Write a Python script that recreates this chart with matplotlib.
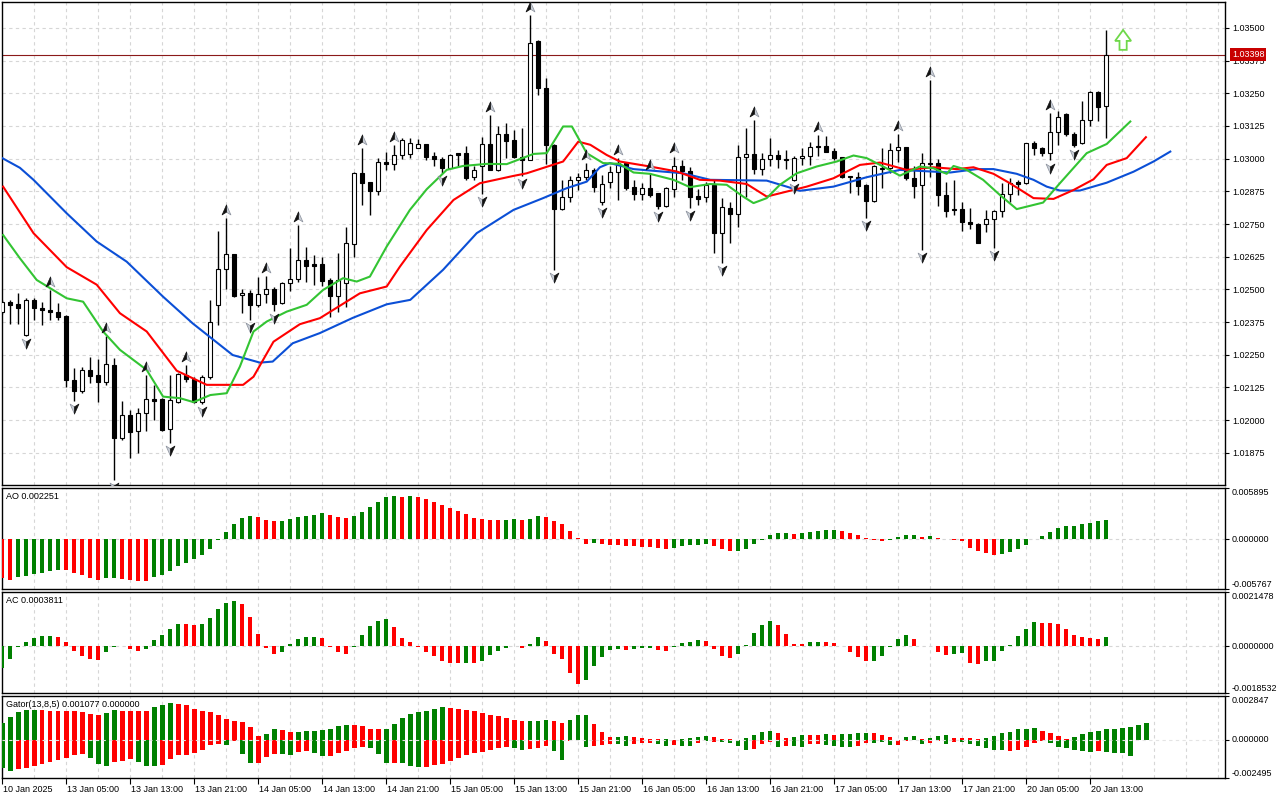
import numpy as np
import matplotlib.pyplot as plt
from matplotlib.path import Path
from matplotlib.patches import Polygon
from matplotlib.transforms import blended_transform_factory

plt.rcParams['font.family'] = ['Liberation Sans', 'DejaVu Sans']
plt.rcParams['font.size'] = 6.5

# EURUSD H1, 10 Jan 21:00 .. 20 Jan 15:00
opens = [
    1.02413, 1.02450, 1.02443, 1.02325, 1.02459, 1.02430, 1.02422, 1.02413, 1.02399, 1.02153,
    1.02113, 1.02191, 1.02173, 1.02147, 1.02211, 1.01931, 1.02019, 1.01958, 1.02027, 1.02080,
    1.02080, 1.01965, 1.02071, 1.02173, 1.02158, 1.02069, 1.02166, 1.02440, 1.02577, 1.02636,
    1.02478, 1.02485, 1.02442, 1.02482, 1.02502, 1.02447, 1.02524, 1.02541, 1.02613, 1.02596,
    1.02596, 1.02536, 1.02476, 1.02526, 1.02674, 1.02944, 1.02910, 1.02878, 1.02986, 1.02979,
    1.03013, 1.03017, 1.03040, 1.03056, 1.03012, 1.02998, 1.02966, 1.03021, 1.03021, 1.02929,
    1.02970, 1.03056, 1.02957, 1.03095, 1.03072, 1.03006, 1.02995, 1.03448, 1.03269, 1.03053,
    1.02807, 1.02853, 1.02919, 1.02929, 1.02957, 1.02836, 1.02912, 1.02948, 1.02985, 1.02891,
    1.02864, 1.02887, 1.02868, 1.02817, 1.02883, 1.02972, 1.02954, 1.02857, 1.02853, 1.02900,
    1.02715, 1.02811, 1.02788, 1.03006, 1.03019, 1.02961, 1.02999, 1.03013, 1.02999, 1.02919,
    1.03002, 1.03009, 1.03049, 1.03049, 1.03030, 1.03006, 1.02934, 1.02929, 1.02900, 1.02838,
    1.02961, 1.02966, 1.03033, 1.03044, 1.02925, 1.02900, 1.02985, 1.02985, 1.02861, 1.02809,
    1.02808, 1.02759, 1.02750, 1.02750, 1.02768, 1.02800, 1.02865, 1.02910, 1.02906, 1.03059,
    1.03040, 1.03021, 1.03100, 1.03170, 1.03093, 1.03059, 1.03148, 1.03256, 1.03202,
]
highs = [
    1.02460, 1.02460, 1.02485, 1.02467, 1.02466, 1.02451, 1.02498, 1.02447, 1.02402, 1.02199,
    1.02202, 1.02243, 1.02234, 1.02320, 1.02237, 1.02072, 1.02039, 1.02046, 1.02173, 1.02135,
    1.02084, 1.02173, 1.02179, 1.02211, 1.02166, 1.02173, 1.02460, 1.02725, 1.02772, 1.02636,
    1.02501, 1.02498, 1.02547, 1.02552, 1.02511, 1.02530, 1.02658, 1.02747, 1.02664, 1.02632,
    1.02625, 1.02545, 1.02638, 1.02740, 1.02950, 1.03040, 1.02912, 1.03002, 1.03027, 1.03053,
    1.03078, 1.03078, 1.03074, 1.03056, 1.03027, 1.03008, 1.03018, 1.03021, 1.03050, 1.02970,
    1.03082, 1.03167, 1.03126, 1.03136, 1.03110, 1.03116, 1.03550, 1.03454, 1.03308, 1.03055,
    1.02919, 1.02934, 1.02944, 1.02983, 1.02963, 1.02938, 1.02970, 1.03002, 1.02989, 1.02919,
    1.02906, 1.02944, 1.02870, 1.02893, 1.03008, 1.02995, 1.02967, 1.02883, 1.02912, 1.02919,
    1.02850, 1.02836, 1.03053, 1.03116, 1.03148, 1.03021, 1.03078, 1.03033, 1.03033, 1.03012,
    1.03040, 1.03065, 1.03091, 1.03088, 1.03040, 1.03008, 1.02934, 1.02948, 1.02902, 1.02976,
    1.03040, 1.03059, 1.03093, 1.03046, 1.02970, 1.03023, 1.03301, 1.02998, 1.02912, 1.02919,
    1.02836, 1.02811, 1.02753, 1.02804, 1.02804, 1.02906, 1.02925, 1.02919, 1.03061, 1.03069,
    1.03046, 1.03174, 1.03184, 1.03174, 1.03100, 1.03222, 1.03259, 1.03259, 1.03492,
]
lows = [
    1.02406, 1.02367, 1.02367, 1.02322, 1.02383, 1.02362, 1.02383, 1.02383, 1.02126, 1.02075,
    1.02103, 1.02141, 1.02071, 1.02135, 1.01772, 1.01924, 1.01857, 1.01876, 1.01958, 1.02001,
    1.01960, 1.01912, 1.02065, 1.02147, 1.02065, 1.02062, 1.02158, 1.02364, 1.02501, 1.02472,
    1.02409, 1.02383, 1.02434, 1.02447, 1.02418, 1.02445, 1.02492, 1.02530, 1.02530, 1.02515,
    1.02513, 1.02396, 1.02415, 1.02434, 1.02625, 1.02823, 1.02785, 1.02861, 1.02957, 1.02957,
    1.02998, 1.03002, 1.03040, 1.02995, 1.02970, 1.02944, 1.02963, 1.02970, 1.02919, 1.02919,
    1.02864, 1.02957, 1.02954, 1.03002, 1.03002, 1.02934, 1.02995, 1.03244, 1.02980, 1.02575,
    1.02804, 1.02836, 1.02880, 1.02919, 1.02874, 1.02823, 1.02887, 1.02842, 1.02880, 1.02842,
    1.02842, 1.02855, 1.02807, 1.02814, 1.02855, 1.02919, 1.02811, 1.02823, 1.02836, 1.02638,
    1.02600, 1.02677, 1.02740, 1.02855, 1.02941, 1.02938, 1.02970, 1.02966, 1.02961, 1.02915,
    1.02976, 1.02976, 1.03011, 1.03025, 1.02995, 1.02925, 1.02870, 1.02861, 1.02772, 1.02836,
    1.02887, 1.02944, 1.02989, 1.02919, 1.02849, 1.02651, 1.02931, 1.02817, 1.02778, 1.02785,
    1.02725, 1.02730, 1.02677, 1.02719, 1.02658, 1.02778, 1.02836, 1.02861, 1.02903, 1.03014,
    1.03011, 1.02993, 1.03053, 1.03087, 1.03046, 1.03056, 1.03125, 1.03145, 1.03078,
]
closes = [
    1.02451, 1.02442, 1.02428, 1.02459, 1.02428, 1.02422, 1.02415, 1.02396, 1.02153, 1.02113,
    1.02191, 1.02170, 1.02147, 1.02215, 1.01931, 1.02019, 1.01954, 1.02027, 1.02080, 1.02075,
    1.01963, 1.02077, 1.02177, 1.02158, 1.02069, 1.02164, 1.02375, 1.02577, 1.02636, 1.02475,
    1.02485, 1.02442, 1.02482, 1.02502, 1.02443, 1.02524, 1.02539, 1.02613, 1.02591, 1.02591,
    1.02534, 1.02476, 1.02536, 1.02677, 1.02944, 1.02908, 1.02878, 1.02989, 1.02979, 1.03013,
    1.03072, 1.03059, 1.03056, 1.03008, 1.02998, 1.02966, 1.03014, 1.03014, 1.02925, 1.02956,
    1.03056, 1.02957, 1.03095, 1.03069, 1.03006, 1.02995, 1.03444, 1.03269, 1.03053, 1.02807,
    1.02853, 1.02919, 1.02929, 1.02957, 1.02891, 1.02903, 1.02949, 1.02983, 1.02887, 1.02864,
    1.02887, 1.02861, 1.02817, 1.02887, 1.02970, 1.02954, 1.02855, 1.02847, 1.02900, 1.02715,
    1.02814, 1.02788, 1.03006, 1.03019, 1.02960, 1.02998, 1.03013, 1.02998, 1.02996, 1.03002,
    1.03009, 1.03044, 1.03044, 1.03027, 1.03004, 1.02931, 1.02929, 1.02897, 1.02838, 1.02970,
    1.02966, 1.03033, 1.03044, 1.02925, 1.02897, 1.02985, 1.02980, 1.02861, 1.02801, 1.02804,
    1.02759, 1.02750, 1.02679, 1.02768, 1.02800, 1.02865, 1.02906, 1.02903, 1.03059, 1.03040,
    1.03021, 1.03100, 1.03161, 1.03093, 1.03053, 1.03148, 1.03256, 1.03199, 1.03398,
]
last_price = 1.03398

# Alligator (jaw 13/8, teeth 8/5, lips 5/3), read at bar positions
jaw_bars = [-0.3, 2.2, 3.9, 8.05, 11.8, 15.55, 20.1, 23.8, 28.8, 32.2, 33.8, 36.3, 39.7, 43.8, 48.05,
            51, 55.1, 59.3, 63.9, 67.6, 70.55, 73.05, 74.7, 75.95, 78.9, 85.1, 88.5, 95.55, 98.05, 99.7,
            103.9, 108.05, 112.2, 118.5, 121.8, 123.9, 126.8, 128.9, 130.55, 132.2, 134.7, 138.05,
            141.4, 143.9, 146]
jaw_vals = [1.03007, 1.02965, 1.02919, 1.02791, 1.02683, 1.02606, 1.02472, 1.02370, 1.02249, 1.02220,
            1.02224, 1.02294, 1.02333, 1.02391, 1.02443, 1.02460, 1.02575, 1.02715, 1.02804, 1.02849,
            1.02887, 1.02912, 1.02967, 1.02983, 1.02960, 1.02944, 1.02919, 1.02916, 1.02893, 1.02877,
            1.02893, 1.02929, 1.02957, 1.02947, 1.02960, 1.02960, 1.02942, 1.02919, 1.02893, 1.02878,
            1.02878, 1.02908, 1.02950, 1.02989, 1.03027]
teeth_bars = [0.1, 3.9, 8.05, 11.8, 14.7, 18.05, 21.8, 25.55, 30.1, 31.4, 33.9, 37.2, 39.7, 44.7, 48.05,
              49.7, 53.05, 56.4, 59.7, 63.9, 65.55, 70.1, 72, 73.5, 75.55, 77.2, 80.95, 84.3, 87.2, 89.7,
              93.05, 95.55, 98.05, 100.55, 103.9, 107.2, 109.7, 113.05, 116.4, 119.3, 121.4, 123.9,
              125.95, 128.9, 131.4, 133.9, 136.4, 138.05, 140.55, 142.95]
teeth_vals = [1.02893, 1.02715, 1.02585, 1.02518, 1.02409, 1.02339, 1.02189, 1.02135, 1.02135, 1.02166,
              1.02300, 1.02367, 1.02390, 1.02485, 1.02511, 1.02587, 1.02727, 1.02842, 1.02906, 1.02934,
              1.02944, 1.02989, 1.03065, 1.03053, 1.03014, 1.02989, 1.02970, 1.02951, 1.02919, 1.02916,
              1.02903, 1.02855, 1.02874, 1.02893, 1.02925, 1.02976, 1.02985, 1.02957, 1.02967, 1.02960,
              1.02967, 1.02942, 1.02906, 1.02849, 1.02846, 1.02880, 1.02921, 1.02976, 1.03002, 1.03082]
lips_bars = [0.1, 2.2, 4.3, 8.05, 10.1, 12.6, 14.7, 18.05, 20.1, 22.2, 23.9, 26, 28.05, 29.7, 31.4,
             33.05, 35.55, 38.05, 40.1, 42.6, 44.3, 45.95, 48.05, 50.95, 53.05, 55.55, 57.6, 60.55,
             63.05, 66.4, 68.05, 70.1, 71.2, 73.05, 75.1, 77.2, 78.9, 80.95, 83.9, 85.95, 88.45, 90.55,
             92.6, 93.9, 95.55, 97.2, 99.3, 101.8, 104.3, 106.4, 108.05, 110.1, 112.2, 114.7, 116.4,
             118.05, 118.9, 120.55, 122.6, 124.7, 126.8, 130.1, 132.2, 135.55, 138.05, 141]
lips_vals = [1.02708, 1.02619, 1.02536, 1.02466, 1.02453, 1.02339, 1.02269, 1.02192, 1.02090, 1.02084,
             1.02069, 1.02096, 1.02103, 1.02205, 1.02339, 1.02377, 1.02415, 1.02441, 1.02498, 1.02543,
             1.02530, 1.02549, 1.02664, 1.02804, 1.02883, 1.02957, 1.02972, 1.02980, 1.02979, 1.03018,
             1.03021, 1.03123, 1.03123, 1.03021, 1.02983, 1.02980, 1.02947, 1.02942, 1.02919, 1.02891,
             1.02903, 1.02900, 1.02855, 1.02830, 1.02849, 1.02900, 1.02944, 1.02970, 1.02989, 1.03012,
             1.03002, 1.02970, 1.02935, 1.02970, 1.02963, 1.02942, 1.02972, 1.02957, 1.02919, 1.02861,
             1.02807, 1.02832, 1.02906, 1.03021, 1.03056, 1.03142]

# Bill Williams fractals (bar index)
up_fractals = [6, 13, 18, 23, 28, 33, 37, 45, 49, 61, 66, 73, 77, 81, 84, 94, 102, 112, 116, 131]
down_fractals = [3, 9, 14, 21, 25, 31, 34, 55, 60, 65, 69, 75, 82, 86, 90, 99, 108, 115, 124, 131, 134]

# buy signal arrow above the last bars
signal_bar = 140.1
signal_low = 1.03416
signal_high = 1.03492

ao_values = [
    -0.004553, -0.004706, -0.004438, -0.004247, -0.004056, -0.003941, -0.003673, -0.003558, -0.003596, -0.003864,
    -0.004132, -0.004476, -0.004706, -0.004553, -0.004515, -0.004629, -0.004744, -0.004821, -0.004859, -0.004438,
    -0.004132, -0.003673, -0.003099, -0.002793, -0.002257, -0.001836, -0.001110, -0.000115, 0.000803, 0.001722,
    0.002410, 0.002640, 0.002525, 0.002219, 0.002066, 0.002104, 0.002296, 0.002525, 0.002678, 0.002831,
    0.002984, 0.002755, 0.002525, 0.002410, 0.002640, 0.003137, 0.003673, 0.004285, 0.004821, 0.004936,
    0.004821, 0.004936, 0.004821, 0.004591, 0.004247, 0.003903, 0.003558, 0.003214, 0.002870, 0.002410,
    0.002296, 0.002219, 0.002181, 0.002219, 0.002296, 0.002181, 0.002296, 0.002640, 0.002602, 0.002066,
    0.001722, 0.000918, 0.000077, -0.000536, -0.000497, -0.000536, -0.000689, -0.000727, -0.000803, -0.000842,
    -0.000880, -0.000918, -0.000995, -0.001110, -0.000995, -0.000803, -0.000727, -0.000689, -0.000536, -0.000803,
    -0.001110, -0.001416, -0.001339, -0.001110, -0.000536, -0.000115, 0.000421, 0.000689, 0.000727, 0.000574,
    0.000689, 0.000803, 0.000957, 0.001033, 0.001071, 0.000918, 0.000689, 0.000459, 0.000077, -0.000153,
    -0.000191, -0.000115, 0.000230, 0.000421, 0.000459, 0.000230, 0.000344, 0.000115, 0.000010, -0.000077,
    -0.000268, -0.001033, -0.001339, -0.001569, -0.001836, -0.001683, -0.001454, -0.001110, -0.000689, -0.000038,
    0.000344, 0.000803, 0.001263, 0.001492, 0.001530, 0.001760, 0.001875, 0.002104, 0.002251,
]
ao_colors = ("r" * 2 + "g" * 6 + "r" * 5 + "g" * 2 + "r" * 4 + "g" * 13 + "r" * 3 + "g" * 6 + "r" * 3
             + "g" * 6 + "r" + "g" + "r" * 11 + "g" * 2 + "r" + "g" * 2 + "r" * 6 + "g" + "r" * 9 + "g" * 5
             + "r" * 3 + "g" * 7 + "r" + "g" * 5 + "r" * 6 + "g" * 4 + "r" + "g" + "r" * 8 + "g" * 14)

ac_values = [
    -0.000882, -0.000487, -0.000013, 0.000171, 0.000329, 0.000408, 0.000421, 0.000368, 0.000171, -0.000171,
    -0.000382, -0.000487, -0.000540, -0.000211, -0.000039, 0.000013, -0.000105, -0.000171, -0.000092, 0.000250,
    0.000447, 0.000684, 0.000882, 0.000868, 0.000855, 0.000882, 0.001119, 0.001474, 0.001711, 0.001790,
    0.001684, 0.001158, 0.000500, -0.000053, -0.000290, -0.000211, 0.000092, 0.000290, 0.000368, 0.000382,
    0.000329, -0.000026, -0.000211, -0.000290, -0.000013, 0.000447, 0.000803, 0.001000, 0.001079, 0.000763,
    0.000329, 0.000171, -0.000013, -0.000211, -0.000382, -0.000605, -0.000658, -0.000684, -0.000671, -0.000684,
    -0.000566, -0.000329, -0.000171, -0.000053, 0.000013, -0.000066, 0.000092, 0.000368, 0.000211, -0.000290,
    -0.000526, -0.001079, -0.001487, -0.001355, -0.000776, -0.000408, -0.000145, -0.000092, -0.000132, -0.000092,
    -0.000066, -0.000053, -0.000132, -0.000184, -0.000013, 0.000132, 0.000171, 0.000250, 0.000211, -0.000105,
    -0.000368, -0.000461, -0.000290, 0.000039, 0.000526, 0.000842, 0.001000, 0.000842, 0.000487, 0.000105,
    0.000092, 0.000158, 0.000171, 0.000158, 0.000145, -0.000005, -0.000211, -0.000421, -0.000605, -0.000579,
    -0.000368, -0.000013, 0.000290, 0.000447, 0.000290, -0.000005, 0.000005, -0.000211, -0.000329, -0.000290,
    -0.000250, -0.000645, -0.000724, -0.000605, -0.000566, -0.000171, 0.000053, 0.000408, 0.000684, 0.000947,
    0.000921, 0.000908, 0.000895, 0.000684, 0.000447, 0.000368, 0.000329, 0.000290, 0.0003811,
]
ac_colors = ("g" * 7 + "r" * 6 + "g" * 3 + "r" * 2 + "g" * 5 + "r" * 2 + "g" * 5 + "r" * 5 + "g" * 5
             + "r" * 4 + "g" * 5 + "r" * 9 + "g" + "r" + "g" * 5 + "r" + "g" * 2 + "r" * 5 + "g" * 5 + "r"
             + "g" * 3 + "r" * 2 + "g" * 4 + "r" * 4 + "g" * 5 + "r" * 4 + "g" * 2 + "r" * 6 + "g" * 5
             + "r" * 2 + "g" + "r" * 2 + "g" * 2 + "r" * 2 + "g" * 7 + "r" * 8 + "g")

gator_upper = [
    0.00106, 0.00148, 0.00178, 0.00191, 0.00193, 0.00191, 0.00190, 0.00189, 0.00188, 0.00184,
    0.00178, 0.00165, 0.00159, 0.00172, 0.00191, 0.00190, 0.00189, 0.00188, 0.00187, 0.00212,
    0.00223, 0.00242, 0.00235, 0.00223, 0.00197, 0.00184, 0.00178, 0.00159, 0.00134, 0.00121,
    0.00114, 0.00083, 0.00025, 0.00038, 0.00070, 0.00064, 0.00051, 0.00053, 0.00057, 0.00059,
    0.00064, 0.00070, 0.00089, 0.00095, 0.00094, 0.00089, 0.00070, 0.00069, 0.00071, 0.00102,
    0.00140, 0.00165, 0.00178, 0.00184, 0.00197, 0.00210, 0.00204, 0.00201, 0.00191, 0.00184,
    0.00172, 0.00159, 0.00153, 0.00140, 0.00127, 0.00121, 0.00122, 0.00123, 0.00127, 0.00121,
    0.00108, 0.00127, 0.00158, 0.00160, 0.00102, 0.00051, 0.00019, 0.00020, 0.00025, 0.00019,
    0.00013, 0.00006, 0.00005, 0.00007, 0.00001, 0.00006, 0.00013, 0.00019, 0.00025, 0.00019,
    0.00006, 0.00005, 0.00001, 0.00013, 0.00032, 0.00051, 0.00057, 0.00045, 0.00013, 0.00019,
    0.00032, 0.00031, 0.00030, 0.00038, 0.00032, 0.00038, 0.00040, 0.00045, 0.00046, 0.00044,
    0.00032, 0.00019, 0.00001, 0.00019, 0.00021, 0.00006, 0.00013, 0.00025, 0.00028, 0.00013,
    0.00011, 0.00008, 0.00006, 0.00008, 0.00025, 0.00045, 0.00051, 0.00070, 0.00072, 0.00076,
    0.00057, 0.00045, 0.00025, 0.00006, 0.00019, 0.00038, 0.00051, 0.00057, 0.00070, 0.00072,
    0.00076, 0.00083, 0.00095, 0.001077,
]
gator_upper_colors = ("g" * 5 + "r" * 8 + "g" * 2 + "r" * 4 + "g" * 3 + "r" * 11 + "g" * 2 + "r" * 2
                      + "g" * 7 + "r" * 4 + "g" * 8 + "r" * 10 + "g" * 3 + "r" * 2 + "g" * 3 + "r" * 3
                      + "g" * 2 + "r" * 4 + "g" + "r" + "g" * 4 + "r" * 4 + "g" * 4 + "r" * 2 + "g" * 2
                      + "r" * 2 + "g" + "r" + "g" * 4 + "r" * 4 + "g" * 2 + "r" + "g" * 3 + "r" * 4
                      + "g" * 7 + "r" * 4 + "g" * 10)
gator_lower = [
    -0.00184, -0.00201, -0.00191, -0.00184, -0.00172, -0.00159, -0.00146, -0.00134, -0.00121, -0.00102,
    -0.00095, -0.00121, -0.00159, -0.00172, -0.00146, -0.00140, -0.00127, -0.00146, -0.00172, -0.00173,
    -0.00165, -0.00127, -0.00102, -0.00101, -0.00089, -0.00064, -0.00032, -0.00031, -0.00033, -0.00006,
    -0.00095, -0.00151, -0.00150, -0.00114, -0.00095, -0.00096, -0.00097, -0.00083, -0.00076, -0.00089,
    -0.00108, -0.00107, -0.00089, -0.00076, -0.00051, -0.00045, -0.00057, -0.00095, -0.00153, -0.00152,
    -0.00154, -0.00172, -0.00178, -0.00177, -0.00165, -0.00159, -0.00140, -0.00121, -0.00102, -0.00089,
    -0.00083, -0.00070, -0.00051, -0.00045, -0.00057, -0.00064, -0.00063, -0.00057, -0.00038, -0.00076,
    -0.00134, -0.00006, -0.00002, -0.00045, -0.00038, -0.00036, -0.00025, -0.00026, -0.00038, -0.00025,
    -0.00024, -0.00019, -0.00025, -0.00038, -0.00032, -0.00038, -0.00039, -0.00019, -0.00006, -0.00013,
    -0.00013, -0.00019, -0.00038, -0.00064, -0.00063, -0.00025, -0.00013, -0.00045, -0.00038, -0.00038,
    -0.00045, -0.00025, -0.00025, -0.00032, -0.00038, -0.00045, -0.00045, -0.00038, -0.00019, -0.00019,
    -0.00017, -0.00032, -0.00032, -0.00006, -0.00004, -0.00025, -0.00019, -0.00006, -0.00025, -0.00013,
    -0.00013, -0.00025, -0.00038, -0.00051, -0.00064, -0.00070, -0.00076, -0.00070, -0.00045, -0.00019,
    -0.00006, -0.00019, -0.00045, -0.00057, -0.00070, -0.00076, -0.00083, -0.00076, -0.00083, -0.00084,
    -0.00089, -0.00108, 0.0, 0.0,
]
gator_lower_colors = ("g" * 2 + "r" * 9 + "g" * 3 + "r" * 3 + "g" * 3 + "r" * 8 + "g" + "r" + "g" * 2
                      + "r" * 3 + "g" * 2 + "r" * 2 + "g" * 2 + "r" * 5 + "g" * 3 + "r" + "g" * 3 + "r" * 11
                      + "g" * 2 + "r" * 3 + "g" * 2 + "r" * 2 + "g" + "r" * 3 + "g" * 2 + "r" * 3 + "g" * 2
                      + "r" + "g" * 2 + "r" + "g" + "r" + "g" * 4 + "r" * 3 + "g" + "r" + "g" * 2 + "r" * 2
                      + "g" * 4 + "r" * 2 + "g" * 3 + "r" * 3 + "g" + "r" * 2 + "g" + "r" + "g" * 6 + "r" * 5
                      + "g" * 6 + "r" + "g" * 4 + "r" * 2)

price_ticks = [1.01875, 1.02000, 1.02125, 1.02250, 1.02375, 1.02500, 1.02625,
               1.02750, 1.02875, 1.03000, 1.03125, 1.03250, 1.03375, 1.03500]
ao_scale = (-0.005767, 0.005895)
ac_scale = (-0.0018532, 0.0021478)
gator_scale = (-0.002495, 0.002847)
ao_title = "AO 0.002251"
ac_title = "AC 0.0003811"
gator_title = "Gator(13,8,5) 0.001077 0.000000"
time_labels = ["10 Jan 2025", "13 Jan 05:00", "13 Jan 13:00", "13 Jan 21:00", "14 Jan 05:00",
               "14 Jan 13:00", "14 Jan 21:00", "15 Jan 05:00", "15 Jan 13:00", "15 Jan 21:00",
               "16 Jan 05:00", "16 Jan 13:00", "16 Jan 21:00", "17 Jan 05:00", "17 Jan 13:00",
               "17 Jan 21:00", "20 Jan 05:00", "20 Jan 13:00"]

GREEN = '#008000'
RED = '#ff0000'
GRID = '#d6d6d6'
DASH = (0, (3, 3))
W, H = 1280, 800
X0, X1 = 2, 1225          # chart area in pixels
BAR_PX, BAR0_PX = 8.0, 2.3

fig = plt.figure(figsize=(W / 100, H / 100), dpi=100)
fig.patch.set_facecolor('white')


def panel(top, bottom):
    ax = fig.add_axes([X0 / W, 1 - bottom / H, (X1 - X0) / W, (bottom - top) / H])
    ax.set_xlim((X0 - BAR0_PX) / BAR_PX, (X1 - BAR0_PX) / BAR_PX)
    for s in ax.spines.values():
        s.set_color('black')
        s.set_linewidth(1.0)
    ax.tick_params(axis='x', length=0, labelbottom=False)
    ax.yaxis.tick_right()
    ax.tick_params(axis='y', direction='out', length=3, width=0.8, labelsize=6.5, pad=2.5)
    for b in range(4, 153, 4):
        ax.axvline(b, color=GRID, lw=0.8, ls=DASH, zorder=0)
    return ax


def side_labels(ax, lo, hi, texts):
    ax.set_ylim(lo, hi)
    ax.set_yticks([lo, 0, hi])
    ax.tick_params(axis='y', labelright=False)
    tr = blended_transform_factory(ax.transAxes, ax.transData)
    for v, t, va in zip([lo, 0, hi], texts, ['bottom', 'center', 'top']):
        ax.text(1.0057, v, t, transform=tr, ha='left', va=va, fontsize=6.5)


def hist(ax, vals, cols, width):
    xs = np.arange(len(vals))
    ax.bar(xs, vals, width=width, color=[GREEN if ch == 'g' else RED for ch in cols], zorder=3)


# ---- price panel ----
ax = panel(2, 485)
ax.set_ylim(1.01752, 1.03599)
ax.set_yticks(price_ticks)
ax.set_yticklabels([f'{p:.5f}' for p in price_ticks])
for p in price_ticks:
    ax.axhline(p, color=GRID, lw=0.8, ls=DASH, zorder=0)

o, h, l, c = (np.array(v) for v in (opens, highs, lows, closes))
x = np.arange(len(o))
bull = c >= o
ax.vlines(x, l, h, color='black', lw=1.0, zorder=3)
ax.bar(x, np.maximum(np.abs(c - o), 0.00002), bottom=np.minimum(o, c), width=0.52,
       color=np.where(bull, 'white', 'black'), edgecolor='black', linewidth=0.8, zorder=4)

ax.plot(jaw_bars, jaw_vals, color='#0b4fd6', lw=1.5, zorder=5)
ax.plot(teeth_bars, teeth_vals, color='#ff0000', lw=1.5, zorder=5)
ax.plot(lips_bars, lips_vals, color='#33c433', lw=1.5, zorder=5)

# fractal arrows: dark left half, pale right half
codes = [Path.MOVETO, Path.LINETO, Path.LINETO, Path.CLOSEPOLY]
up_dark = Path([(0, 1), (-0.8, -0.8), (0, -0.3), (0, 1)], codes)
up_pale = Path([(0, 1), (0, -0.3), (0.8, -0.8), (0, 1)], codes)
dn_dark = Path([(0, -1), (0, 0.3), (0.8, 0.8), (0, -1)], codes)
dn_pale = Path([(0, -1), (-0.8, 0.8), (0, 0.3), (0, -1)], codes)
ux = np.array(up_fractals)
dx = np.array(down_fractals)
uy = h[ux] + 0.00031
dy = l[dx] - 0.00027
for xs, ys, dark, pale in ((ux, uy, up_dark, up_pale), (dx, dy, dn_dark, dn_pale)):
    ax.plot(xs, ys, ls='none', marker=pale, ms=8, mfc='#c9ced6', mec='#8a909c', mew=0.5, zorder=6)
    ax.plot(xs, ys, ls='none', marker=dark, ms=8, mfc='#111111', mec='#111111', mew=0.5, zorder=6)

ax.axhline(last_price, color='#8b1a1a', lw=0.8, zorder=2)
ax.text(1.0057, last_price, f'{last_price:.5f}', transform=blended_transform_factory(ax.transAxes, ax.transData),
        ha='left', va='center', color='white', fontsize=6.5, zorder=10,
        bbox=dict(facecolor='#c80000', edgecolor='none', pad=1.2))

hb = signal_low + 0.45 * (signal_high - signal_low)
arrow = Polygon([(signal_bar, signal_high), (signal_bar + 1.0, hb), (signal_bar + 0.45, hb),
                 (signal_bar + 0.45, signal_low), (signal_bar - 0.45, signal_low),
                 (signal_bar - 0.45, hb), (signal_bar - 1.0, hb)],
                closed=True, facecolor='white', edgecolor='#6fd84a', lw=1.3, zorder=7)
ax.add_patch(arrow)

# ---- AO ----
ao = panel(488, 589)
ao.axhline(0, color=GRID, lw=0.8, ls=DASH, zorder=1)
hist(ao, ao_values, ao_colors, 0.5)
side_labels(ao, ao_scale[0], ao_scale[1], ['-0.005767', '0.000000', '0.005895'])
ao.text(0.0033, 0.92, ao_title, transform=ao.transAxes, ha='left', va='center', fontsize=6.5)

# ---- AC ----
ac = panel(592, 693)
ac.axhline(0, color=GRID, lw=0.8, ls=DASH, zorder=1)
hist(ac, ac_values, ac_colors, 0.5)
side_labels(ac, ac_scale[0], ac_scale[1], ['-0.0018532', '0.0000000', '0.0021478'])
ac.text(0.0033, 0.92, ac_title, transform=ac.transAxes, ha='left', va='center', fontsize=6.5)

# ---- Gator ----
gx = panel(696, 778)
hist(gx, gator_upper, gator_upper_colors, 0.55)
hist(gx, gator_lower, gator_lower_colors, 0.55)
gx.axhline(0, color='#e4e4e4', lw=0.8, ls=DASH, zorder=4)
side_labels(gx, gator_scale[0], gator_scale[1], ['-0.002495', '0.000000', '0.002847'])
gx.text(0.0033, 0.90, gator_title, transform=gx.transAxes, ha='left', va='center', fontsize=6.5)

tbars = np.arange(len(time_labels)) * 8
gx.set_xticks(tbars)
gx.tick_params(axis='x', length=4, width=0.8, direction='out', labelbottom=False)
ttr = blended_transform_factory(gx.transData, gx.transAxes)
for b, t in zip(tbars, time_labels):
    gx.text(b + 0.12, -0.135, t, transform=ttr, ha='left', va='center', fontsize=6.5)

fig.savefig('out.png', dpi=100, facecolor='white')
